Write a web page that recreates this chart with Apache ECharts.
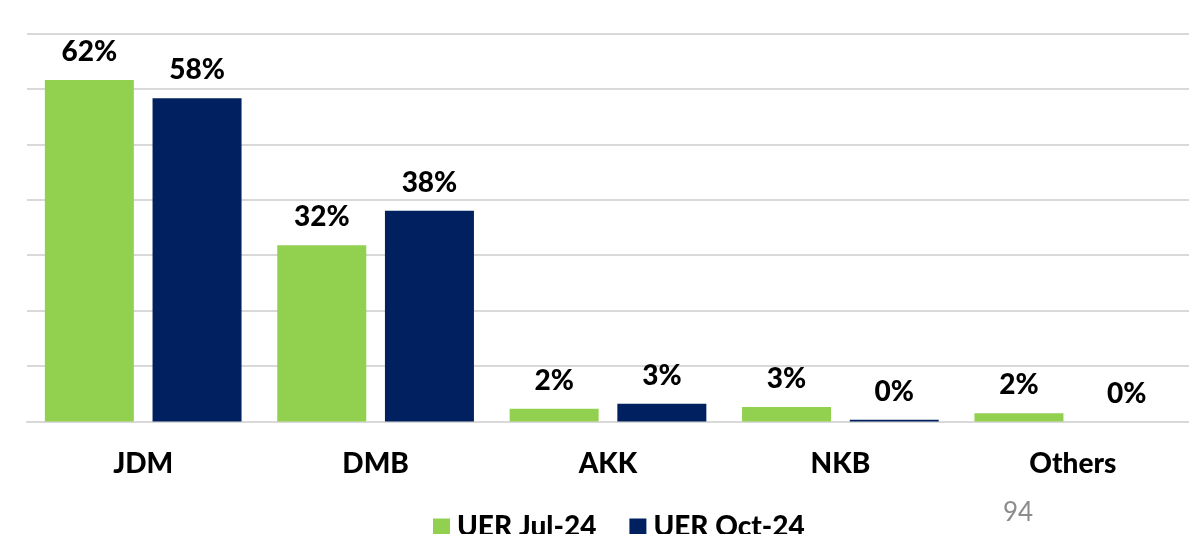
<!DOCTYPE html>
<html>
<head>
<meta charset="utf-8">
<script src="https://cdn.jsdelivr.net/npm/echarts@6/dist/echarts.min.js"></script>
<style>
  html, body { margin: 0; padding: 0; background: #ffffff; }
  #chart { width: 1189px; height: 534px; }
</style>
</head>
<body>
<div id="chart"></div>
<script>
// Share of UER by group, two survey rounds (percent)
const categories = ['JDM', 'DMB', 'AKK', 'NKB', 'Others'];
const seriesNames = ['UER Jul-24', 'UER Oct-24'];
const uerJul24 = [61.6, 31.8, 2.3, 2.6, 1.5];
const uerOct24 = [58.3, 38.0, 3.2, 0.3, 0.0];
const pageNumber = '94';

const FONT = 'Lato, "Open Sans", sans-serif';
const WEIGHT = 900;
const GREEN = '#92D050';
const NAVY = '#002060';

const labelStyle = {
  show: true,
  position: 'top',
  distance: 14,
  fontFamily: FONT,
  fontWeight: WEIGHT,
  fontSize: 28,
  color: '#000000',
  formatter: p => Math.round(p.value) + '%'
};

const chart = echarts.init(document.getElementById('chart'), null, { renderer: 'canvas' });
chart.setOption({
  animation: false,
  backgroundColor: '#ffffff',
  grid: { left: 27, right: -4, top: 33.5, bottom: 112.5, containLabel: false },
  legend: {
    data: seriesNames,
    top: 507,
    left: 428,
    itemWidth: 17,
    itemHeight: 17,
    itemGap: 33,
    icon: 'rect',
    textStyle: {
      fontFamily: FONT,
      fontWeight: WEIGHT,
      fontSize: 28,
      lineHeight: 30,
      color: '#000000',
      padding: [0, 0, 0, 2]
    }
  },
  xAxis: {
    type: 'category',
    data: categories,
    axisLine: { show: true, lineStyle: { color: '#d9d9d9', width: 2 } },
    axisTick: { show: false },
    axisLabel: {
      margin: 28,
      fontFamily: FONT,
      fontWeight: WEIGHT,
      fontSize: 28,
      color: '#000000'
    }
  },
  yAxis: {
    type: 'value',
    min: 0,
    max: 70,
    interval: 10,
    axisLine: { show: false },
    axisTick: { show: false },
    axisLabel: { show: false },
    splitLine: { show: true, lineStyle: { color: '#d9d9d9', width: 2 } }
  },
  series: [
    {
      name: seriesNames[0],
      type: 'bar',
      data: uerJul24,
      barWidth: 89,
      barGap: '21%',
      itemStyle: { color: GREEN },
      label: labelStyle
    },
    {
      name: seriesNames[1],
      type: 'bar',
      data: uerOct24,
      barWidth: 89,
      barGap: '21%',
      itemStyle: { color: NAVY },
      label: labelStyle
    }
  ],
  graphic: [
    {
      type: 'text',
      left: 1003,
      top: 500,
      style: {
        text: pageNumber,
        fontFamily: FONT,
        fontSize: 26,
        fill: '#8c8c8c'
      }
    }
  ]
});
</script>
</body>
</html>
